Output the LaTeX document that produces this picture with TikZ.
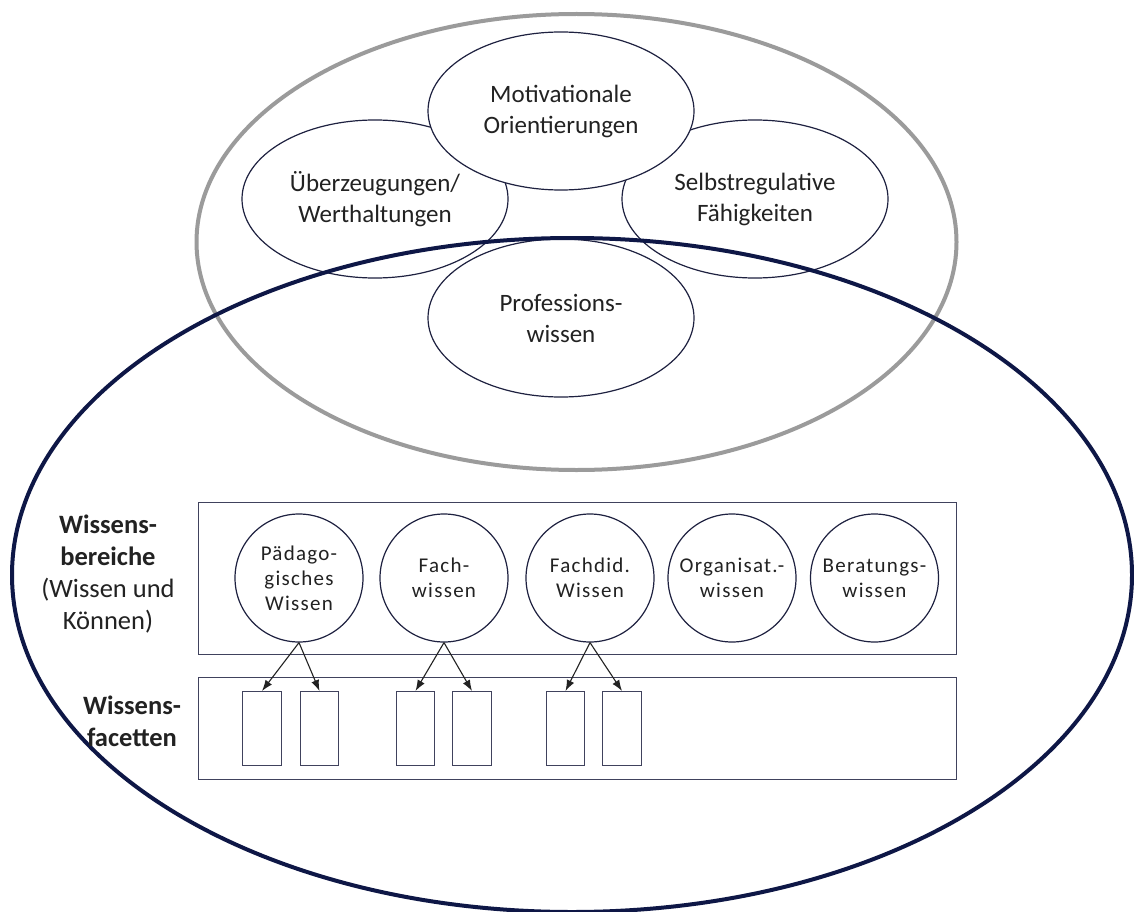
\documentclass[tikz,border=0pt]{standalone}
\usepackage{fontspec}
\setmainfont{Carlito}
\newfontfamily\spaced[LetterSpace=6]{Carlito}
\usetikzlibrary{shapes.geometric,arrows.meta}
\definecolor{navy}{HTML}{0E1746}
\definecolor{ringgray}{HTML}{9B9B9B}
\definecolor{edge}{HTML}{1E2140}
\definecolor{ink}{HTML}{222222}
\begin{document}
\begin{tikzpicture}[x=1pt,y=-1pt,
  oval/.style={ellipse, draw=edge, line width=1.2pt, fill=white, minimum width=266pt, minimum height=158pt, inner sep=0pt, align=center, text=ink, font=\fontsize{25}{31}\selectfont},
  kreis/.style={circle, draw=edge, line width=1.2pt, minimum size=128pt, inner sep=0pt, align=center, text=ink, font=\spaced\fontsize{21}{25}\selectfont},
  box/.style={draw=edge!85, line width=1.2pt, inner sep=0pt, anchor=north west, minimum width=758pt},
  facet/.style={draw=edge!85, line width=1.2pt, minimum width=38.5pt, minimum height=74pt, inner sep=0pt, anchor=north},
  arr/.style={-{Latex[length=11pt,width=8pt]}, line width=1.1pt, draw=ink},
  lab/.style={align=center, text=ink, font=\fontsize{26.5}{32}\selectfont}
]
\useasboundingbox[fill=white] (0,0) rectangle (1134,912);

% outer gray ring
\node[ellipse, draw=ringgray, line width=4pt, minimum width=760pt, minimum height=456pt, inner sep=0pt] (ring) at (576.5,242) {};

% four components
\node[oval] (ueber) at (375,199) {Überzeugungen/\\Werthaltungen};
\node[oval] (selbst) at (755,199) {Selbstregulative\\Fähigkeiten};
\node[oval] (prof) at (561,318) {Professions-\\wissen};
\node[oval] (motiv) at (561,111) {Motivationale\\Orientierungen};

% big navy ellipse
\node[ellipse, draw=navy, line width=4pt, minimum width=1120pt, minimum height=674pt, inner sep=0pt] (whole) at (572,575) {};

% boxes
\node[box, minimum height=152pt] (bereichbox) at (198,502) {};
\node[box, minimum height=102pt] (facettbox) at (198,677) {};

% knowledge areas
\node[kreis] (paed) at (299,578) {Pädago-\\gisches\\Wissen};
\node[kreis] (fach) at (444,578) {Fach-\\wissen};
\node[kreis] (fdid) at (590,578) {Fachdid.\\Wissen};
\node[kreis] (org) at (732,578) {Organisat.-\\wissen};
\node[kreis] (ber) at (874.5,578) {Beratungs-\\wissen};

% facets
\node[facet] (p1) at (262,691) {};
\node[facet] (p2) at (319.5,691) {};
\node[facet] (f1) at (415.5,691) {};
\node[facet] (f2) at (472,691) {};
\node[facet] (d1) at (565.5,691) {};
\node[facet] (d2) at (622,691) {};

\draw[arr] (paed.south) -- (p1.north);
\draw[arr] (paed.south) -- (p2.north);
\draw[arr] (fach.south) -- (f1.north);
\draw[arr] (fach.south) -- (f2.north);
\draw[arr] (fdid.south) -- (d1.north);
\draw[arr] (fdid.south) -- (d2.north);

% labels
\node[lab] (lbereiche) at (108,574) {\textbf{Wissens-}\\\textbf{bereiche}\\(Wissen und\\Können)};
\node[lab] (lfacetten) at (132,721) {\textbf{Wissens-}\\\textbf{facetten}};
\end{tikzpicture}
\end{document}
